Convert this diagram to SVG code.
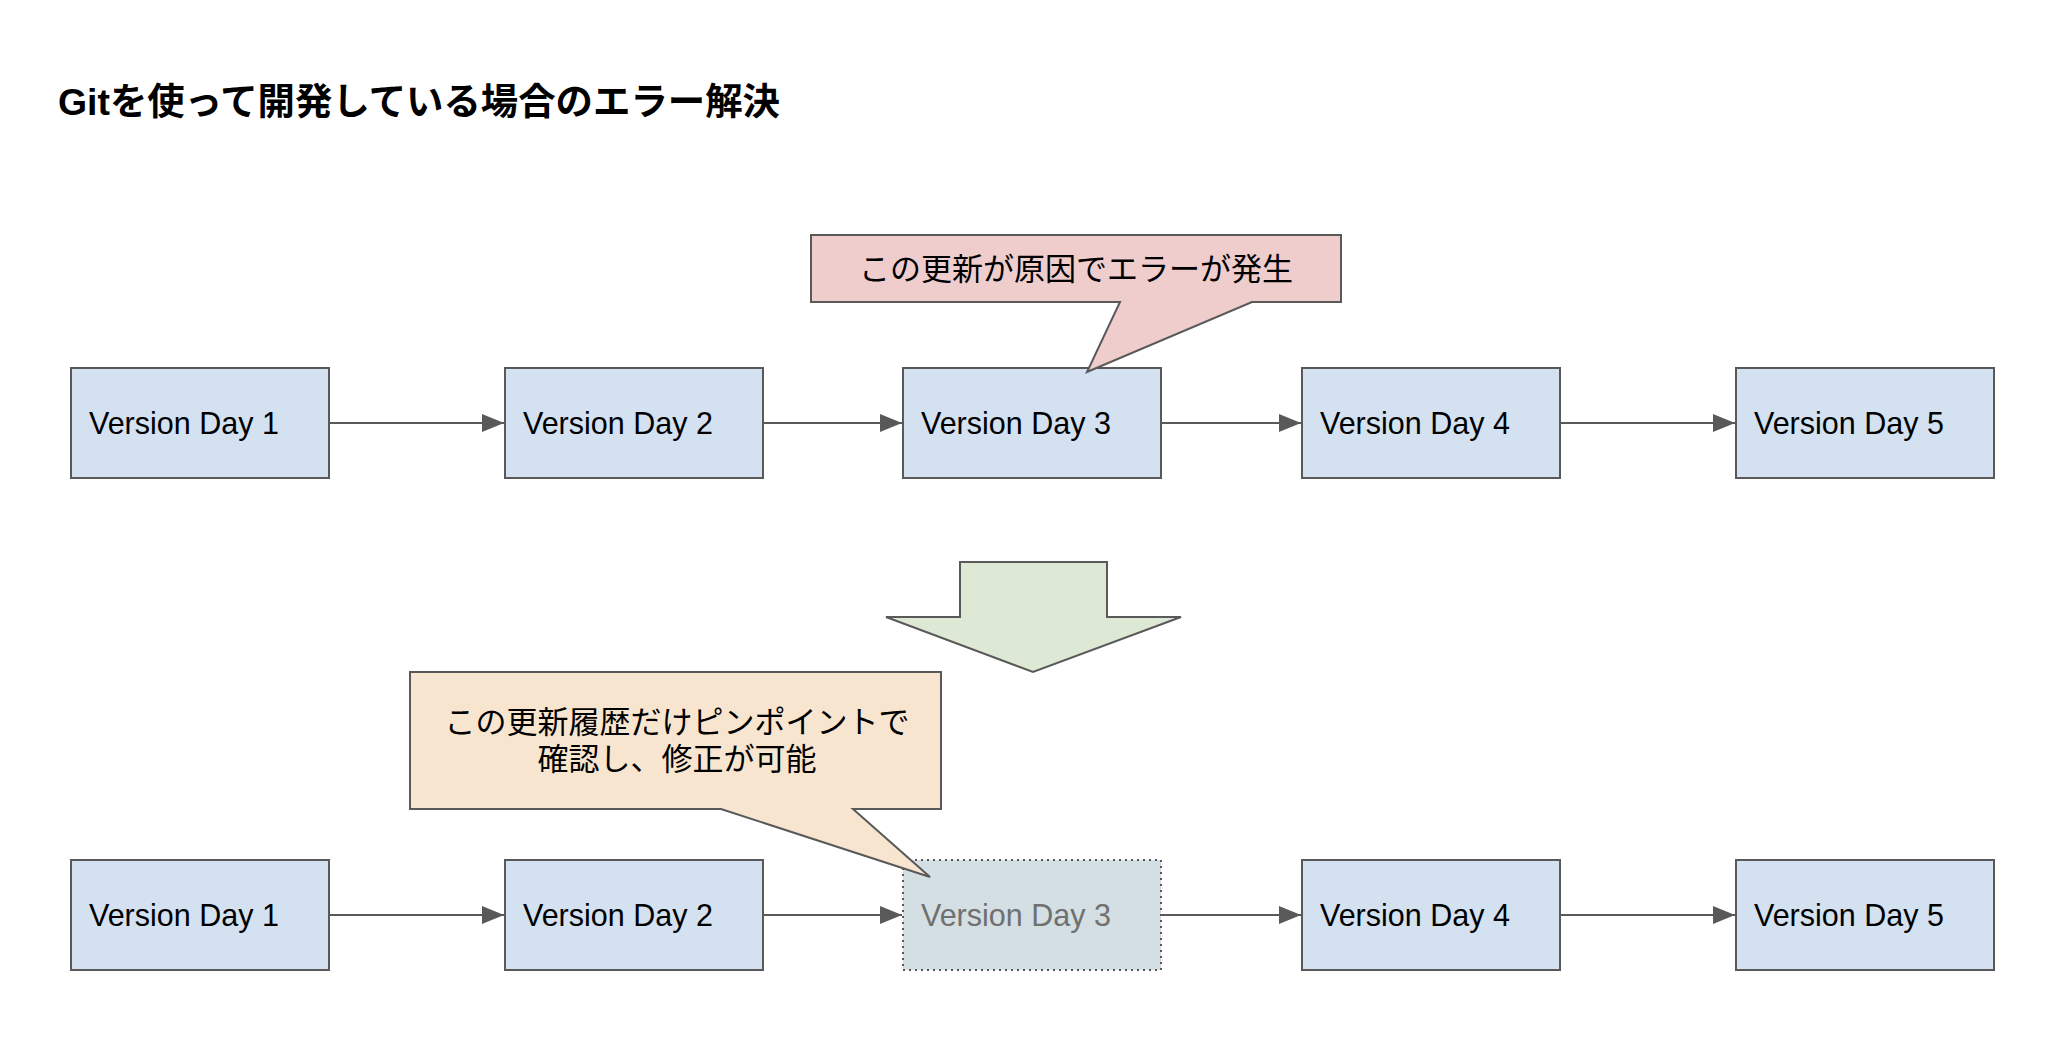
<svg xmlns="http://www.w3.org/2000/svg" width="2054" height="1038" viewBox="0 0 2054 1038">
<defs>
<style>
.box{fill:#d3e1f1;stroke:#595959;stroke-width:2}
.ghost{fill:#d3dfe3;stroke:#595959;stroke-width:2;stroke-dasharray:2 4}
.lbl{font-family:"Liberation Sans",Arial,"Noto Sans CJK JP",sans-serif;font-size:30.5px;fill:#000}
.glbl{font-family:"Liberation Sans",Arial,"Noto Sans CJK JP",sans-serif;font-size:30.5px;fill:#707070}
.jp{font-family:"Liberation Sans","Noto Sans CJK JP",sans-serif;font-size:31px;fill:#000;text-anchor:middle}
.edge{stroke:#595959;stroke-width:2;fill:none;marker-end:url(#ah)}
</style>
<marker id="ah" markerUnits="userSpaceOnUse" markerWidth="24" markerHeight="20" refX="22" refY="9" orient="auto">
<path d="M0,0 L22,9 L0,18 Z" fill="#595959"/>
</marker>
</defs>
<rect width="2054" height="1038" fill="#fff"/>
<text id="title" x="58" y="115" style="font-family:'Liberation Sans','Noto Sans CJK JP',sans-serif;font-size:37.4px;font-weight:bold">Gitを使って開発している場合のエラー解決</text>

<g id="connectors">
<path class="edge" d="M329,423 H504"/>
<path class="edge" d="M763,423 H902"/>
<path class="edge" d="M1161,423 H1301"/>
<path class="edge" d="M1560,423 H1735"/>
<path class="edge" d="M329,915 H504"/>
<path class="edge" d="M763,915 H902"/>
<path class="edge" d="M1161,915 H1301"/>
<path class="edge" d="M1560,915 H1735"/>
</g>

<g id="t1"><rect class="box" x="71" y="368" width="258" height="110"/><text class="lbl" x="89" y="434">Version Day 1</text></g>
<g id="t2"><rect class="box" x="505" y="368" width="258" height="110"/><text class="lbl" x="523" y="434">Version Day 2</text></g>
<g id="t3"><rect class="box" x="903" y="368" width="258" height="110"/><text class="lbl" x="921" y="434">Version Day 3</text></g>
<g id="t4"><rect class="box" x="1302" y="368" width="258" height="110"/><text class="lbl" x="1320" y="434">Version Day 4</text></g>
<g id="t5"><rect class="box" x="1736" y="368" width="258" height="110"/><text class="lbl" x="1754" y="434">Version Day 5</text></g>

<g id="b1"><rect class="box" x="71" y="860" width="258" height="110"/><text class="lbl" x="89" y="926">Version Day 1</text></g>
<g id="b2"><rect class="box" x="505" y="860" width="258" height="110"/><text class="lbl" x="523" y="926">Version Day 2</text></g>
<g id="b3"><rect class="ghost" x="903" y="860" width="258" height="110"/><text class="glbl" x="921" y="926">Version Day 3</text></g>
<g id="b4"><rect class="box" x="1302" y="860" width="258" height="110"/><text class="lbl" x="1320" y="926">Version Day 4</text></g>
<g id="b5"><rect class="box" x="1736" y="860" width="258" height="110"/><text class="lbl" x="1754" y="926">Version Day 5</text></g>

<g id="callout1">
<path d="M811,235 H1341 V302 H1252 L1087,372 L1120,302 H811 Z" fill="#efcdcd" stroke="#595959" stroke-width="2"/>
<text class="jp" x="1076" y="280">この更新が原因でエラーが発生</text>
</g>

<g id="downArrow">
<path d="M960,562 H1107 V617 H1181 L1033,672 L886,617 H960 Z" fill="#dde9d5" stroke="#595959" stroke-width="2"/>
</g>

<g id="callout2">
<path d="M410,672 H941 V809 H853 L930,877 L721,809 H410 Z" fill="#f8e5d0" stroke="#595959" stroke-width="2"/>
<text class="jp" x="677" y="733">この更新履歴だけピンポイントで</text>
<text class="jp" x="677" y="770">確認し、修正が可能</text>
</g>
</svg>
